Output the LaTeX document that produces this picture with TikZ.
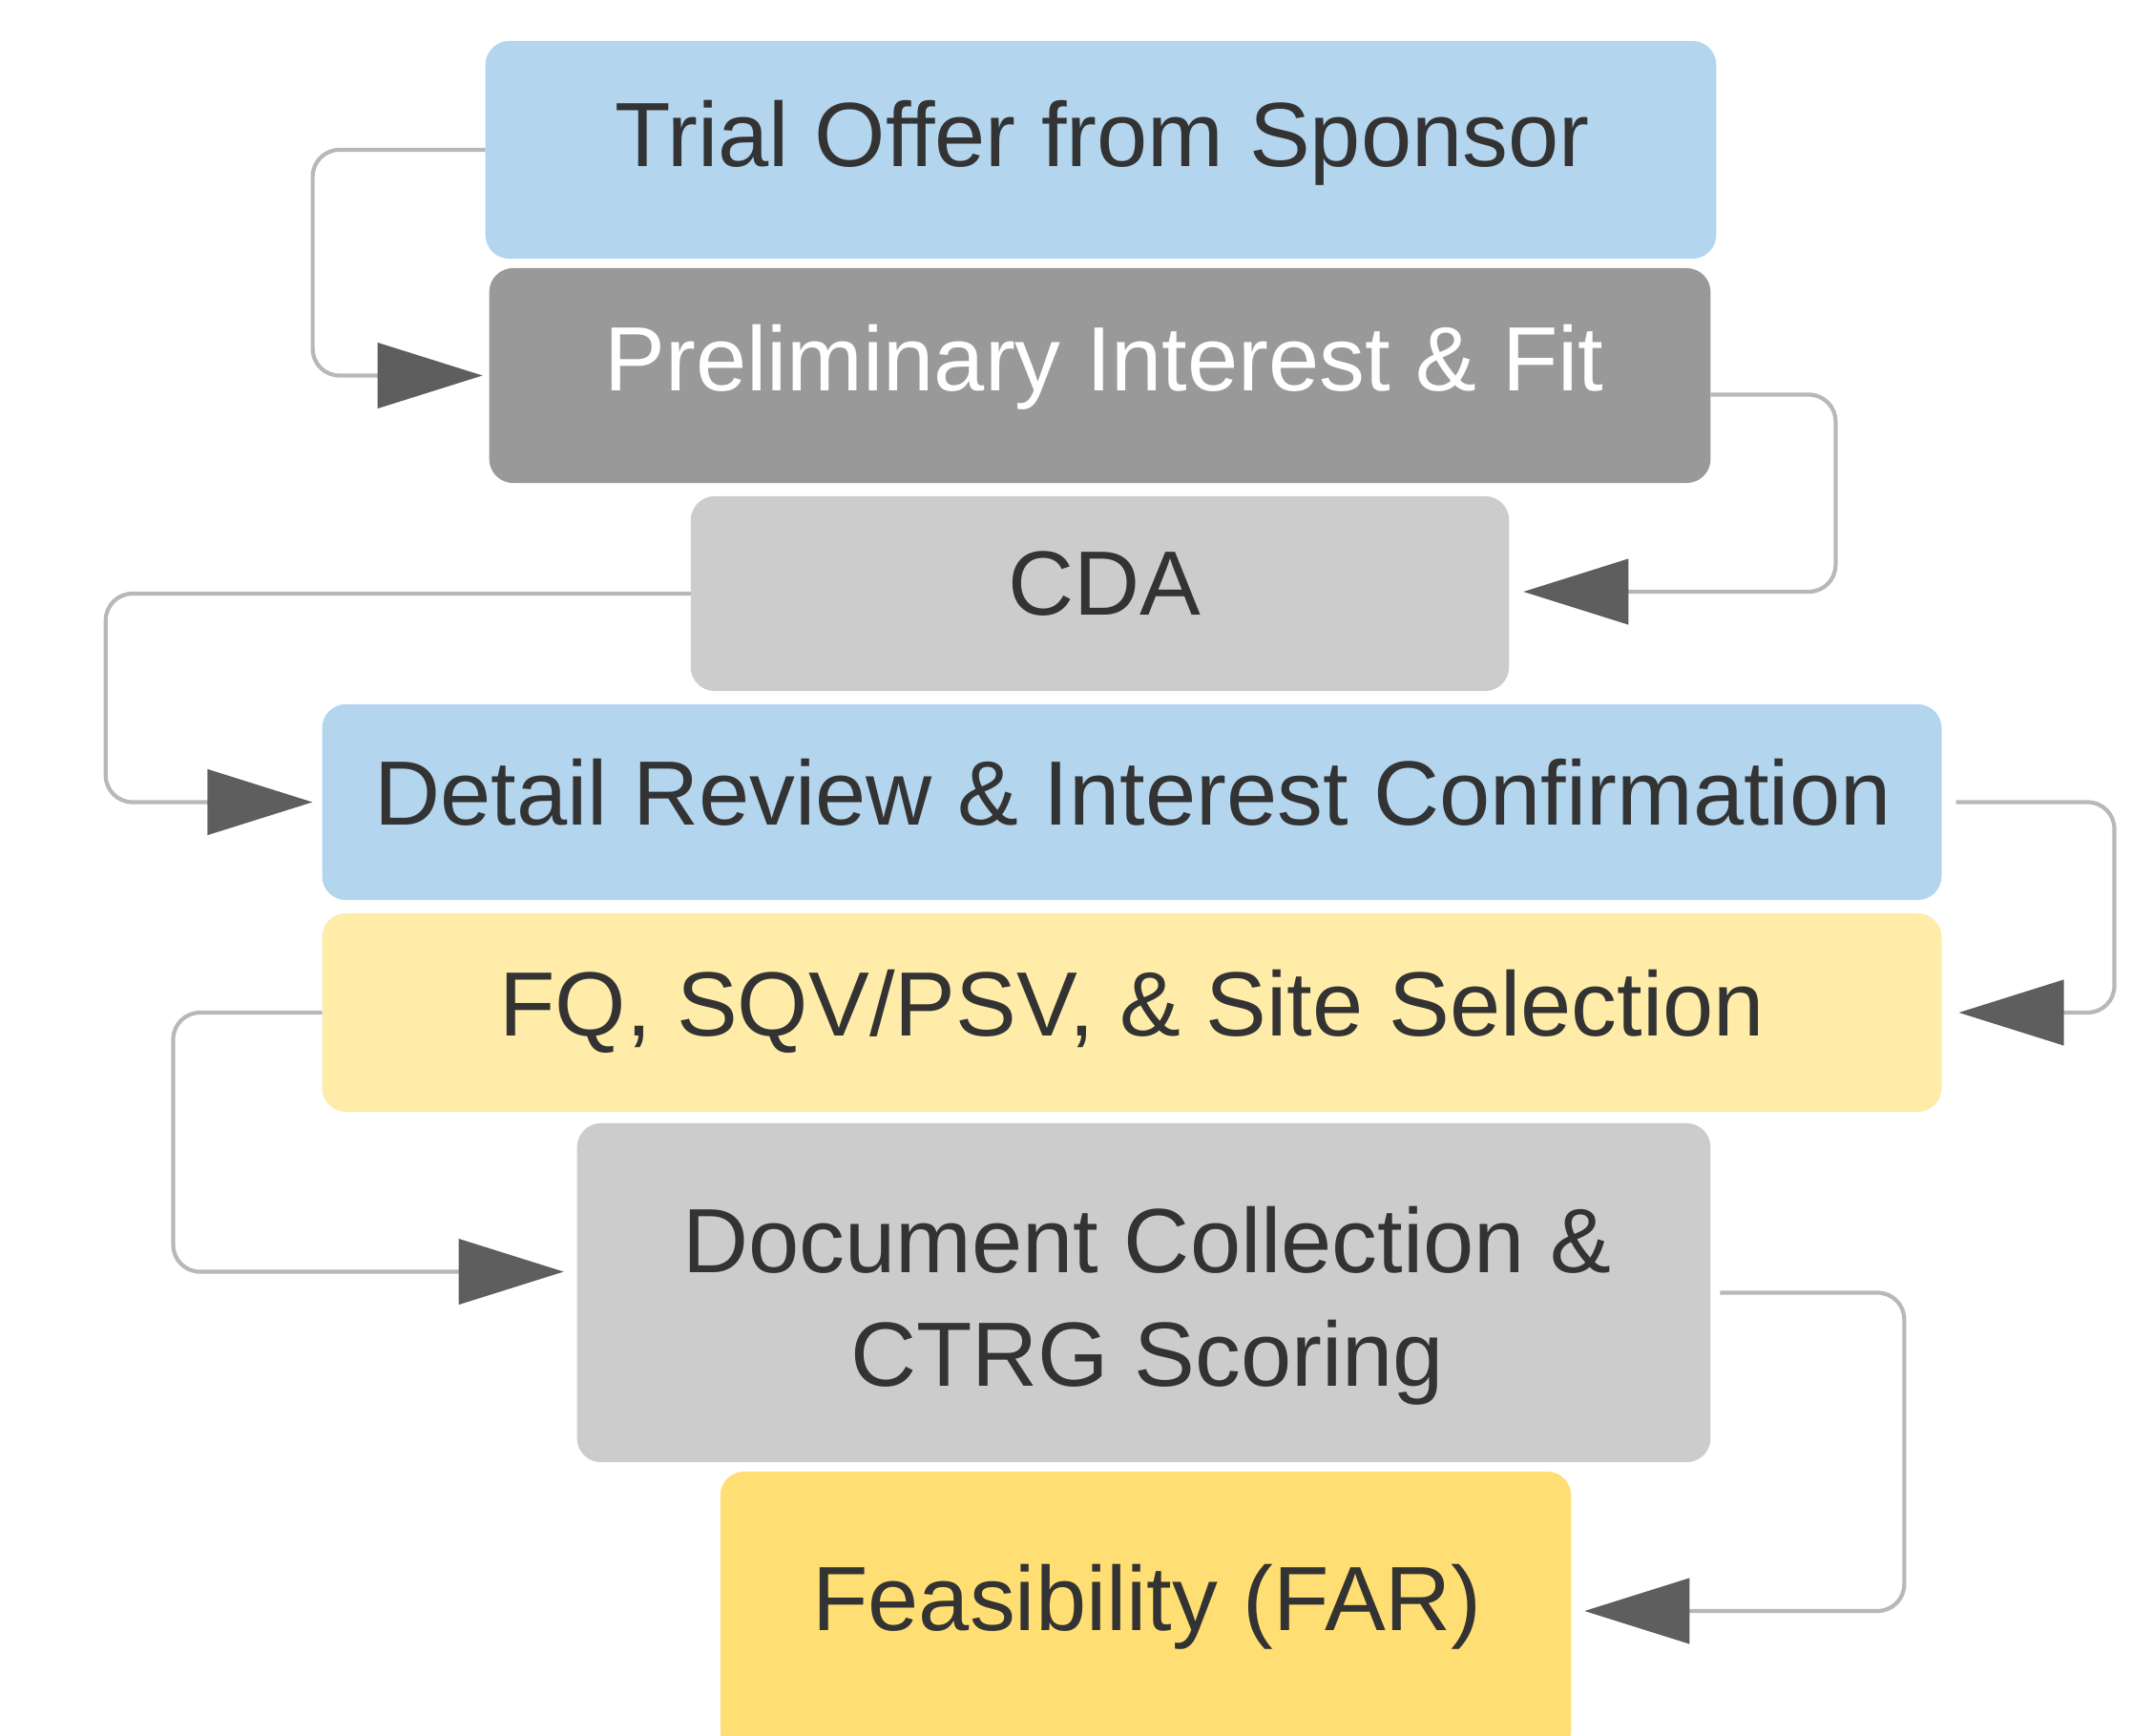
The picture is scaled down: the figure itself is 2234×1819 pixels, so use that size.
\documentclass[tikz,border=0pt]{standalone}
\usepackage{fontspec}
\setmainfont{Liberation Sans}
\usetikzlibrary{arrows.meta,calc}
\definecolor{skyblue}{HTML}{B3D5EE}
\definecolor{midgray}{HTML}{999999}
\definecolor{palegray}{HTML}{CCCCCC}
\definecolor{paleyellow}{HTML}{FFECA9}
\definecolor{goldyellow}{HTML}{FFDF73}
\definecolor{ink}{HTML}{333333}
\definecolor{linegray}{HTML}{B8B8B8}
\definecolor{tipgray}{HTML}{5E5E5E}
\begin{document}
\begin{tikzpicture}[x=0.01cm,y=-0.01cm,
  stage/.style={rounded corners=0.25cm, inner sep=0pt, outer sep=0pt},
  lbl/.style={anchor=base, inner sep=0pt, text=ink, font=\fontsize{27.2}{33.7}\selectfont},
  flow/.style={draw=linegray, line width=1.2pt, rounded corners=0.28cm,
    -{Triangle[length=11mm,width=6.8mm,color=tipgray]}}]
\clip (0,0) rectangle (2234,1819);

% process stages
\node[stage, fill=skyblue,    minimum width=12.89cm, minimum height=2.28cm] (b1) at (1153.5,157) {};
\node[stage, fill=midgray,    minimum width=12.79cm, minimum height=2.25cm] (b2) at (1152.5,393.5) {};
\node[stage, fill=palegray,   minimum width=8.57cm,  minimum height=2.04cm] (b3) at (1152.5,622) {};
\node[stage, fill=skyblue,    minimum width=16.96cm, minimum height=2.05cm] (b4) at (1186,840.5) {};
\node[stage, fill=paleyellow, minimum width=16.96cm, minimum height=2.08cm] (b5) at (1186,1061) {};
\node[stage, fill=palegray,   minimum width=11.87cm, minimum height=3.55cm] (b6) at (1198.5,1354.5) {};
\node[stage, fill=goldyellow, minimum width=8.91cm,  minimum height=2.96cm] (b7) at (1200.5,1690) {};

% stage labels
\node[lbl] (t1) at (1155,175) {Trial Offer from Sponsor};
\node[lbl, text=white] (t2) at (1157,410) {Preliminary Interest \& Fit};
\node[lbl] (t3) at (1157,644) {CDA};
\node[lbl] (t4) at (1187,864) {Detail Review \& Interest Confirmation};
\node[lbl] (t5) at (1186,1085) {FQ, SQV/PSV, \& Site Selection};
\node[lbl] (t6a) at (1202,1333) {Document Collection \&};
\node[lbl] (t6b) at (1202,1452) {CTRG Scoring};
\node[lbl] (t7) at (1202,1708) {Feasibility (FAR)};

% elbow connectors between consecutive stages
\draw[flow] (b1.west) -- ++(-181,0) |- ($(b2.west)+(-7,0)$);
\draw[flow] ($(b2.east)+(0,20)$) -- ++(131,0) |- ($(b3.east)+(15,-2)$);
\draw[flow] (b3.west) -- ++(-613,0) |- ($(b4.west)+(-10,0)$);
\draw[flow] ($(b4.east)+(15,0)$) -- ++(166,0) |- ($(b5.east)+(18,0)$);
\draw[flow] (b5.west) -- ++(-156,0) |- ($(b6.west)+(-14,-22)$);
\draw[flow] ($(b6.east)+(10,0)$) -- ++(193,0) |- ($(b7.east)+(14,-2)$);
\end{tikzpicture}
\end{document}
